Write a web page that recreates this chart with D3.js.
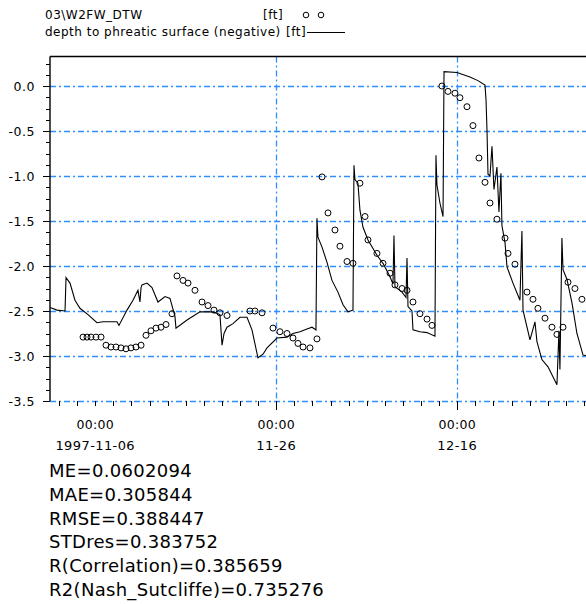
<!DOCTYPE html>
<html><head><meta charset="utf-8">
<script src="https://cdn.jsdelivr.net/npm/d3@7"></script>
<style>body{margin:0;background:#fff}svg{display:block}text{font-family:"DejaVu Sans",sans-serif;fill:#000}</style>
</head><body><svg id="c" width="586" height="604"></svg>
<script>
// ---- data (time = days since 1997-11-01 00:00) ----
const obsDays = [3.65,4.09,4.53,5.08,5.64,6.19,6.74,7.29,7.85,8.40,8.95,9.50,10.06,10.61,11.16,11.71,12.27,12.82,13.48,14.03,14.70,15.25,16.02,16.80,17.46,18.12,18.78,19.56,22.10,22.65,23.43,24.64,25.41,26.19,26.85,27.40,27.96,28.73,29.50,30.06,30.72,31.49,32.04,32.82,33.48,34.25,34.81,35.14,36.13,36.80,37.57,38.12,38.90,39.45,40.11,40.88,41.66,42.21,43.31,43.98,44.75,45.30,46.08,46.74,47.40,48.07,48.62,49.39,50.28,50.61,51.38,52.71,53.37,53.92,54.70,55.47,56.02,56.69,57.24,58.01,58.78];
const obsVals = [-2.79,-2.79,-2.79,-2.79,-2.79,-2.88,-2.90,-2.90,-2.91,-2.92,-2.91,-2.90,-2.88,-2.77,-2.72,-2.69,-2.68,-2.65,-2.53,-2.11,-2.16,-2.19,-2.27,-2.40,-2.44,-2.49,-2.52,-2.55,-2.50,-2.50,-2.52,-2.69,-2.73,-2.75,-2.80,-2.86,-2.90,-2.91,-2.81,-1.01,-1.41,-1.60,-1.78,-1.95,-1.97,-1.08,-1.45,-1.71,-1.86,-1.97,-2.08,-2.21,-2.25,-2.27,-2.40,-2.53,-2.59,-2.66,0.00,-0.06,-0.08,-0.13,-0.23,-0.44,-0.80,-1.07,-1.30,-1.48,-1.69,-1.86,-1.98,-2.29,-2.37,-2.47,-2.58,-2.68,-2.76,-2.68,-2.18,-2.25,-2.37];
const simDays = [0.00,0.77,1.66,1.77,2.21,2.76,3.31,4.20,5.19,5.86,7.40,7.62,8.51,9.17,9.72,9.94,10.06,10.17,10.72,11.27,11.93,12.71,13.26,13.81,13.92,15.14,16.57,18.01,18.78,19.01,19.23,19.56,20.22,20.99,21.77,22.32,22.98,23.54,23.98,25.08,26.19,26.85,27.62,28.40,28.95,29.39,29.50,29.61,30.06,30.61,31.16,31.82,32.38,32.93,33.48,33.59,33.70,34.03,34.25,34.59,35.14,36.13,36.80,37.57,37.90,38.01,38.12,38.90,39.34,39.45,39.56,40.00,40.11,40.88,41.66,42.54,42.65,42.76,43.09,43.43,43.54,44.97,46.41,47.29,48.07,48.18,48.29,48.40,48.62,48.84,49.06,49.39,49.61,49.83,49.94,50.28,50.50,51.16,51.93,52.15,52.27,52.71,53.04,53.59,53.81,54.36,55.03,56.02,56.24,56.35,56.57,56.69,57.13,57.68,58.23,58.90,59.67];
const simVals = [-2.46,-2.49,-2.50,-2.13,-2.19,-2.38,-2.47,-2.54,-2.63,-2.62,-2.62,-2.66,-2.49,-2.38,-2.27,-2.40,-2.24,-2.21,-2.19,-2.24,-2.40,-2.34,-2.36,-2.56,-2.69,-2.60,-2.51,-2.51,-2.54,-2.88,-2.75,-2.68,-2.64,-2.57,-2.57,-2.71,-3.02,-2.98,-2.91,-2.80,-2.79,-2.75,-2.73,-2.70,-2.68,-2.71,-1.47,-1.68,-1.79,-1.96,-2.16,-2.29,-2.43,-2.51,-2.49,-0.88,-1.04,-1.08,-1.38,-1.57,-1.71,-1.88,-1.97,-2.12,-2.20,-1.66,-2.23,-2.29,-2.35,-1.91,-2.45,-2.50,-2.71,-2.73,-2.74,-2.78,-0.77,-1.10,-1.30,-1.45,0.16,0.15,0.10,0.06,0.01,-0.15,-0.49,-0.98,-1.00,-0.67,-1.15,-0.90,-1.40,-0.97,-1.55,-1.74,-2.01,-2.19,-2.38,-1.61,-2.49,-2.68,-2.82,-2.62,-2.84,-3.04,-3.12,-3.32,-2.72,-3.15,-1.69,-2.04,-2.15,-2.41,-2.75,-2.99,-3.00];
const majorTickDates = ["1997-11-06","1997-11-26","1997-12-16"];
const tickTimeLabels = ["00:00","00:00","00:00"];
const tickDateLabels = ["1997-11-06","11-26","12-16"];
const gridDates = ["1997-11-26","1997-12-16"];
const yMajorTicks = [0.0,-0.5,-1.0,-1.5,-2.0,-2.5,-3.0,-3.5];
const legendNames = ["03\\W2FW_DTW","depth to phreatic surface (negative)"];
const legendUnits = ["[ft]","[ft]"];
const statLines = ["ME=0.0602094","MAE=0.305844","RMSE=0.388447","STDres=0.383752","R(Correlation)=0.385659","R2(Nash_Sutcliffe)=0.735276"];

// ---- drawing ----
const svg = d3.select("#c");
const DAY = 86400000;
const t0 = Date.UTC(1997,10,1);
const toDate = d => new Date(t0 + d*DAY);
const L=50, R=586, T=56.5, B=401;
const x = d3.scaleUtc().domain([toDate(0), toDate(59.23)]).range([L,R]);
const y = d3.scaleLinear().domain([-3.5, 0.328]).range([B,T]);
const blue = "#2f8fff";
const fmt = v => (Math.abs(v)<1e-9 ? "0.0" : v.toFixed(1));
const dash = "6,3,2,3";

svg.append("defs").append("clipPath").attr("id","pc").append("rect")
  .attr("x",L).attr("y",T-1).attr("width",R-L).attr("height",B-T+2);

// horizontal grid
svg.append("g").selectAll("line").data(yMajorTicks).join("line")
  .attr("x1",L).attr("x2",R).attr("y1",d=>Math.round(y(d))+0.5).attr("y2",d=>Math.round(y(d))+0.5)
  .attr("stroke",blue).attr("stroke-width",1.3).attr("stroke-dasharray",dash);
// vertical grid
svg.append("g").selectAll("line").data(gridDates).join("line")
  .attr("x1",d=>Math.round(x(new Date(d)))+0.5).attr("x2",d=>Math.round(x(new Date(d)))+0.5)
  .attr("y1",T).attr("y2",B)
  .attr("stroke",blue).attr("stroke-width",1.3).attr("stroke-dasharray",dash);

// x minor ticks every 2 days (even dates)
const minorTicks = d3.utcDay.range(toDate(0), toDate(59.3)).filter(d => Math.round((d - t0)/DAY) % 2 === 1);
const gx = svg.append("g");
gx.selectAll("line.mn").data(minorTicks).join("line").attr("class","mn")
  .attr("x1",d=>Math.round(x(d))+0.5).attr("x2",d=>Math.round(x(d))+0.5).attr("y1",B).attr("y2",B+5)
  .attr("stroke","#000").attr("stroke-width",1);
gx.selectAll("line.mj").data(gridDates).join("line").attr("class","mj")
  .attr("x1",d=>Math.round(x(new Date(d)))+0.5).attr("x2",d=>Math.round(x(new Date(d)))+0.5).attr("y1",B).attr("y2",B+9)
  .attr("stroke","#000").attr("stroke-width",1);
gx.selectAll("text.t1").data(majorTickDates).join("text").attr("class","t1")
  .attr("x",d=>x(new Date(d))).attr("y",429).attr("text-anchor","middle")
  .attr("font-size",12.5).attr("letter-spacing",0.3).text((d,i)=>tickTimeLabels[i]);
gx.selectAll("text.t2").data(majorTickDates).join("text").attr("class","t2")
  .attr("x",d=>x(new Date(d))).attr("y",450).attr("text-anchor","middle")
  .attr("font-size",13).attr("letter-spacing",0.4).text((d,i)=>tickDateLabels[i]);

// y axis
const yTicks = d3.range(-3.5, 0.26, 0.125);
const gy = svg.append("g");
gy.append("line").attr("x1",L).attr("x2",L).attr("y1",T).attr("y2",B).attr("stroke","#000").attr("stroke-width",1.4);
gy.selectAll("line.yt").data(yTicks).join("line").attr("class","yt")
  .attr("x1",d=> Math.abs(d*2-Math.round(d*2))<1e-6 ? L-7 : L-4).attr("x2",L)
  .attr("y1",d=>Math.round(y(d))+0.5).attr("y2",d=>Math.round(y(d))+0.5).attr("stroke","#000");
gy.selectAll("text").data(yMajorTicks).join("text")
  .attr("x",35).attr("y",d=>y(d)+4.5).attr("text-anchor","end").attr("font-size",12.5)
  .attr("letter-spacing",0.5).text(fmt);
// top border
svg.append("line").attr("x1",L).attr("x2",R).attr("y1",T).attr("y2",T).attr("stroke","#000").attr("stroke-width",1.4);

// data
const plot = svg.append("g").attr("clip-path","url(#pc)");
const sim = simDays.map((d,i)=>[toDate(d), simVals[i]]);
plot.append("path").datum(sim)
  .attr("d", d3.line().x(d=>x(d[0])).y(d=>y(d[1])))
  .attr("fill","none").attr("stroke","#000").attr("stroke-width",1.1);
plot.selectAll("circle").data(obsDays.map((d,i)=>[toDate(d), obsVals[i]])).join("circle")
  .attr("cx",d=>x(d[0])).attr("cy",d=>y(d[1])).attr("r",3)
  .attr("fill","none").attr("stroke","#000").attr("stroke-width",1);

// legend
const lg = svg.append("g").attr("font-size",12).attr("letter-spacing",0.5);
lg.append("text").attr("x",45).attr("y",19).text(legendNames[0]);
lg.append("text").attr("x",263).attr("y",19).text(legendUnits[0]);
lg.selectAll("circle").data([0,1]).join("circle").attr("cx",d=>306+d*15).attr("cy",15).attr("r",2.8)
  .attr("fill","none").attr("stroke","#000");
lg.append("text").attr("x",45).attr("y",36).text(legendNames[1]);
lg.append("text").attr("x",286).attr("y",36).text(legendUnits[1]);
lg.append("line").attr("x1",307).attr("x2",345).attr("y1",32.5).attr("y2",32.5).attr("stroke","#000");

// statistics
svg.append("g").selectAll("text").data(statLines).join("text")
  .attr("x",49).attr("y",(d,i)=>477+i*23.8).attr("font-size",18).attr("letter-spacing",0.3).text(d=>d);
</script></body></html>
